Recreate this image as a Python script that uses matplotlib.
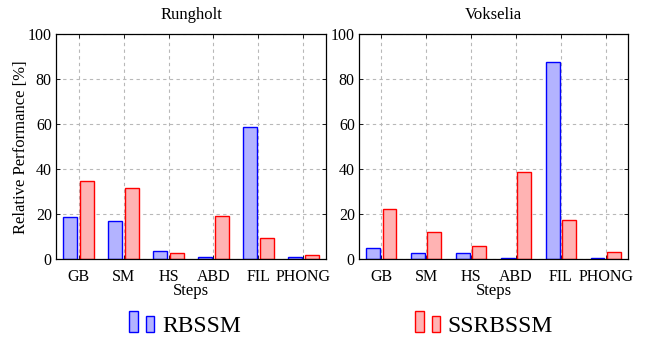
import matplotlib.pyplot as plt
from matplotlib.patches import Rectangle
from matplotlib.legend_handler import HandlerBase
import numpy as np

plt.rcParams['font.family'] = ['Liberation Serif', 'DejaVu Serif']
plt.rcParams['font.size'] = 11.5

steps = ['GB', 'SM', 'HS', 'ABD', 'FIL', 'PHONG']
scenes = ['Rungholt', 'Vokselia']
rbssm = [
    [18.5, 16.8, 3.4, 0.9, 58.9, 0.9],
    [5.0, 2.7, 2.5, 0.6, 87.8, 0.6],
]
ssrbssm = [
    [34.7, 31.8, 2.7, 19.3, 9.5, 1.6],
    [22.4, 11.9, 5.9, 38.9, 17.2, 3.3],
]
yticks = [0, 20, 40, 60, 80, 100]

blue_edge, blue_fill = '#0000ff', '#b3b3ff'
red_edge, red_fill = '#ff0000', '#ffb3b3'


# legend handle like pgfplots ybar legend: two small bars
class TwoBars(HandlerBase):
    def create_artists(self, legend, orig, xd, yd, w, h, fontsize, trans):
        fc = orig.get_facecolor()
        ec = orig.get_edgecolor()
        r1 = Rectangle((xd, yd - 0.05 * h), w * 0.36, h * 1.2,
                       facecolor=fc, edgecolor=ec, linewidth=1)
        r2 = Rectangle((xd + w * 0.68, yd - 0.05 * h), w * 0.32, h * 0.95,
                       facecolor=fc, edgecolor=ec, linewidth=1)
        r1.set_transform(trans)
        r2.set_transform(trans)
        return [r1, r2]


fig = plt.figure(figsize=(6.5, 3.44), dpi=100)
ax1 = fig.add_axes([0.0862, 0.247, 0.4153, 0.653])
ax2 = fig.add_axes([0.5523, 0.247, 0.4139, 0.653])

x = np.arange(len(steps))
w = 0.31
for i, ax in enumerate([ax1, ax2]):
    ax.set_axisbelow(True)
    b1 = ax.bar(x - 0.18, rbssm[i], w, color=blue_fill, edgecolor=blue_edge, linewidth=1)
    b2 = ax.bar(x + 0.18, ssrbssm[i], w, color=red_fill, edgecolor=red_edge, linewidth=1)
    ax.set_xlim(-0.5, 5.5)
    ax.set_ylim(0, 100)
    ax.set_xticks(x)
    ax.set_xticklabels(steps)
    ax.set_yticks(yticks)
    ax.grid(True, linestyle=(0, (3, 3)), color='#b8b8b8', linewidth=0.8)
    ax.tick_params(direction='in', top=True, right=True, length=3, width=0.6)
    ax.tick_params(axis='x', pad=7.5)
    ax.tick_params(axis='y', pad=3)
    for s in ax.spines.values():
        s.set_linewidth(0.9)
    ax.set_title(scenes[i], fontsize=12, pad=11)
    ax.set_xlabel('Steps', fontsize=12, labelpad=-2)

ax1.set_ylabel('Relative Performance [%]', fontsize=12, labelpad=-1)

fig.legend([b1[0], b2[0]], ['RBSSM', 'SSRBSSM'], handler_map={type(b1[0]): TwoBars()},
           loc='center', bbox_to_anchor=(0.525, 0.053), ncol=2, frameon=False,
           fontsize=17, handlelength=1.05, handleheight=0.75, handletextpad=0.35,
           columnspacing=7.35, borderpad=0)

fig.savefig('out.png', dpi=100)
